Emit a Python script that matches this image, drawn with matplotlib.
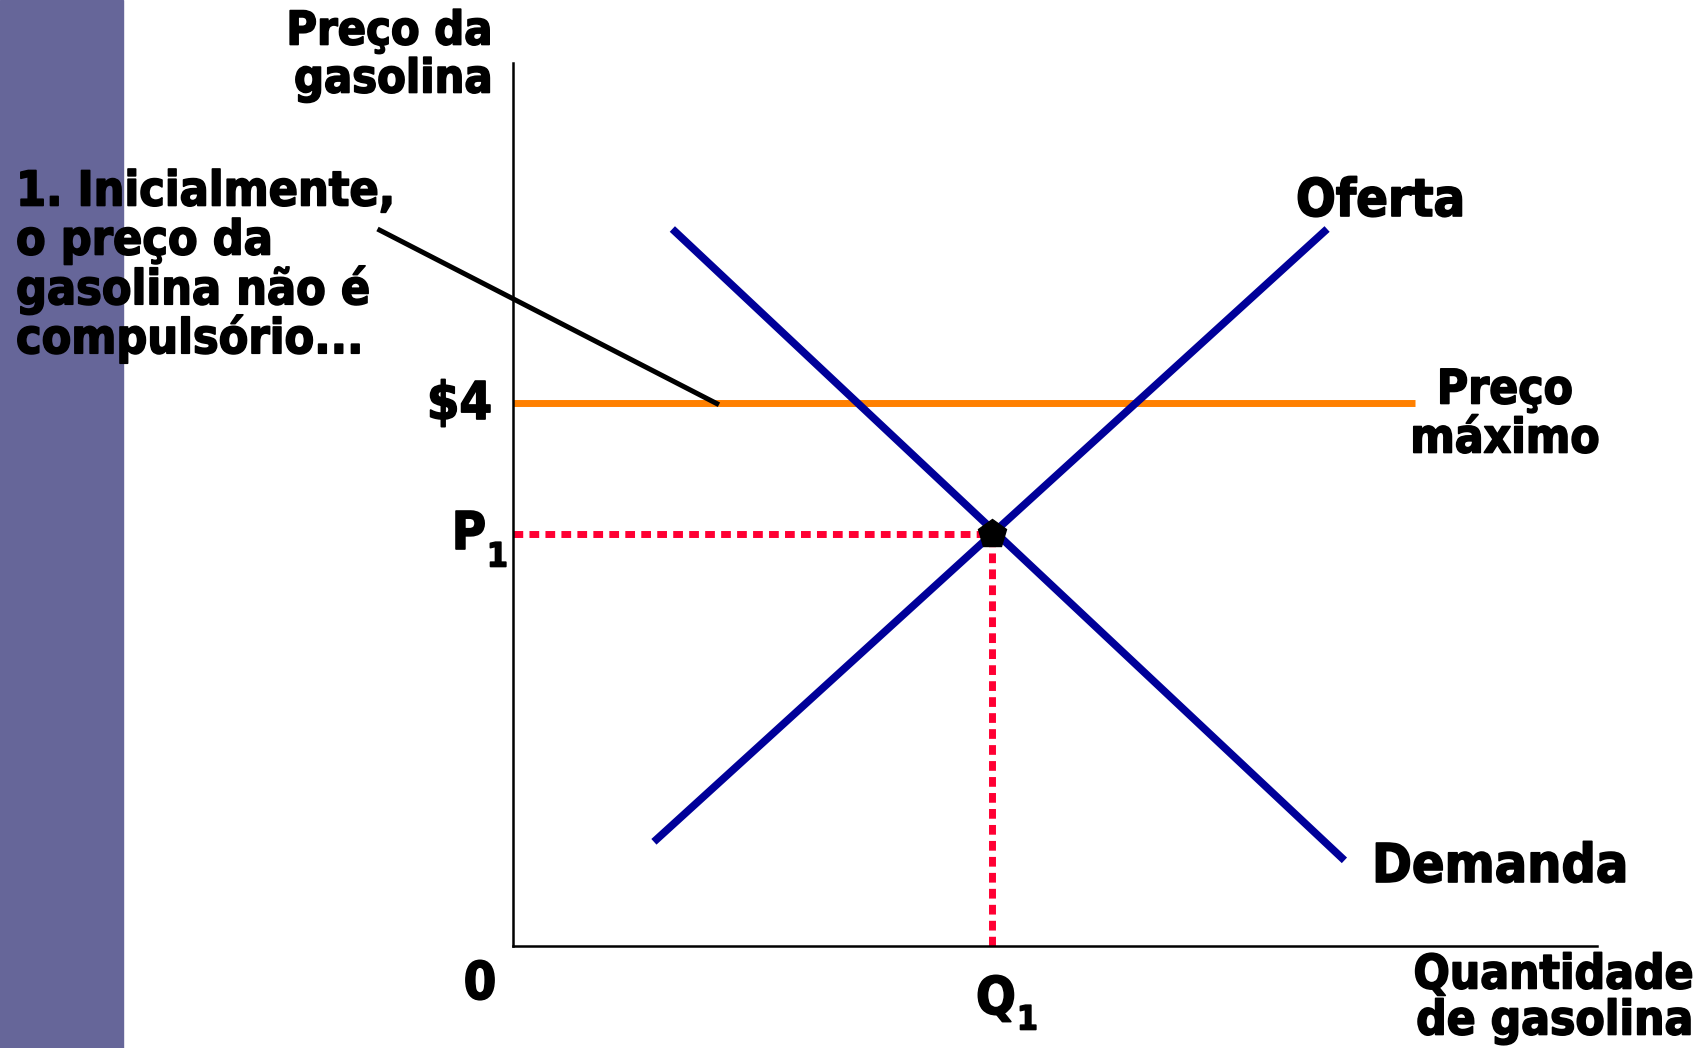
import matplotlib
matplotlib.use("Agg")
import matplotlib.pyplot as plt
import matplotlib.patheffects as pe

# curves in chart units (quantity 0-100, price 0-100)
demand_q = [14.7, 76.7]
demand_p = [81.2, 9.7]
supply_q = [13.0, 75.1]
supply_p = [11.8, 81.2]
q1, p1 = 44.2, 46.7
ceiling_q = [0, 83.2]
ceiling_p = [61.5, 61.5]
pointer_q = [-12.5, 19.0]
pointer_p = [81.2, 61.3]

W, H = 1703, 1048
fig = plt.figure(figsize=(W / 100, H / 100), dpi=100)

def fx(x):
    return x / W

def fy(y):
    return 1 - y / H

# side bar
fig.patches.append(plt.Rectangle((0, 0), fx(123), 1, transform=fig.transFigure,
                                  color="#666699", zorder=0))

ax = fig.add_axes([fx(513), fy(946), (1597 - 513) / W, (946 - 63) / H])
ax.set_xlim(0, 100)
ax.set_ylim(0, 100)
ax.patch.set_alpha(0)
for s in ["top", "right"]:
    ax.spines[s].set_visible(False)
for s in ["left", "bottom"]:
    ax.spines[s].set_linewidth(1.8)
ax.set_xticks([])
ax.set_yticks([])

blue = "#000099"
red = "#FF0033"
orange = "#FF8000"

ax.plot(ceiling_q, ceiling_p, color=orange, lw=5, solid_capstyle="butt", clip_on=False)
ax.plot(demand_q, demand_p, color=blue, lw=5.5, solid_capstyle="butt", clip_on=False)
ax.plot(supply_q, supply_p, color=blue, lw=5.5, solid_capstyle="butt", clip_on=False)
ax.plot(pointer_q, pointer_p, color="black", lw=3.6, solid_capstyle="butt", clip_on=False)
ax.plot([0, q1], [p1, p1], color=red, lw=5, ls=(0, (1.4, 0.9)), dash_capstyle="butt")
ax.plot([q1, q1], [0, p1], color=red, lw=5, ls=(0, (1.4, 0.9)), dash_capstyle="butt")
ax.plot([q1], [p1], marker="p", ms=21, color="black", zorder=5)

# slightly heavier strokes to mimic the original bold face
thick = [pe.withStroke(linewidth=1.2, foreground="black")]
font = dict(family="DejaVu Sans", fontstretch="condensed", fontweight="bold",
            color="black", path_effects=thick)
big = 37.5
mid = 33.5

fig.text(fx(492), fy(32), "Preço da", ha="right", va="center", fontsize=mid, **font)
fig.text(fx(492), fy(80), "gasolina", ha="right", va="center", fontsize=mid, **font)

ann = ["1. Inicialmente,", "o preço da", "gasolina não é", "compulsório..."]
for i, line in enumerate(ann):
    fig.text(fx(16), fy(192 + 49 * i), line, ha="left", va="center", fontsize=34.6, **font)

fig.text(fx(1296), fy(202), "Oferta", ha="left", va="center", fontsize=big, **font)
fig.text(fx(1505), fy(391), "Preço", ha="center", va="center", fontsize=34.2, **font)
fig.text(fx(1505), fy(440), "máximo", ha="center", va="center", fontsize=34.2, **font)
fig.text(fx(1372), fy(867), "Demanda", ha="left", va="center", fontsize=38.5, **font)
fig.text(fx(1694), fy(976), "Quantidade", ha="right", va="center", fontsize=34.2, **font)
fig.text(fx(1694), fy(1022), "de gasolina", ha="right", va="center", fontsize=34.2, **font)

fig.text(fx(492), fy(405), "$4", ha="right", va="center", fontsize=big, **font)
fig.text(fx(486), fy(535), "P", ha="right", va="center", fontsize=big, **font)
fig.text(fx(487), fy(557), "1", ha="left", va="center", fontsize=24, **font)
fig.text(fx(480), fy(985), "0", ha="center", va="center", fontsize=big, **font)
fig.text(fx(1016), fy(1000), "Q", ha="right", va="center", fontsize=big, **font)
fig.text(fx(1017), fy(1020), "1", ha="left", va="center", fontsize=24, **font)

fig.savefig("out.png", dpi=100)
